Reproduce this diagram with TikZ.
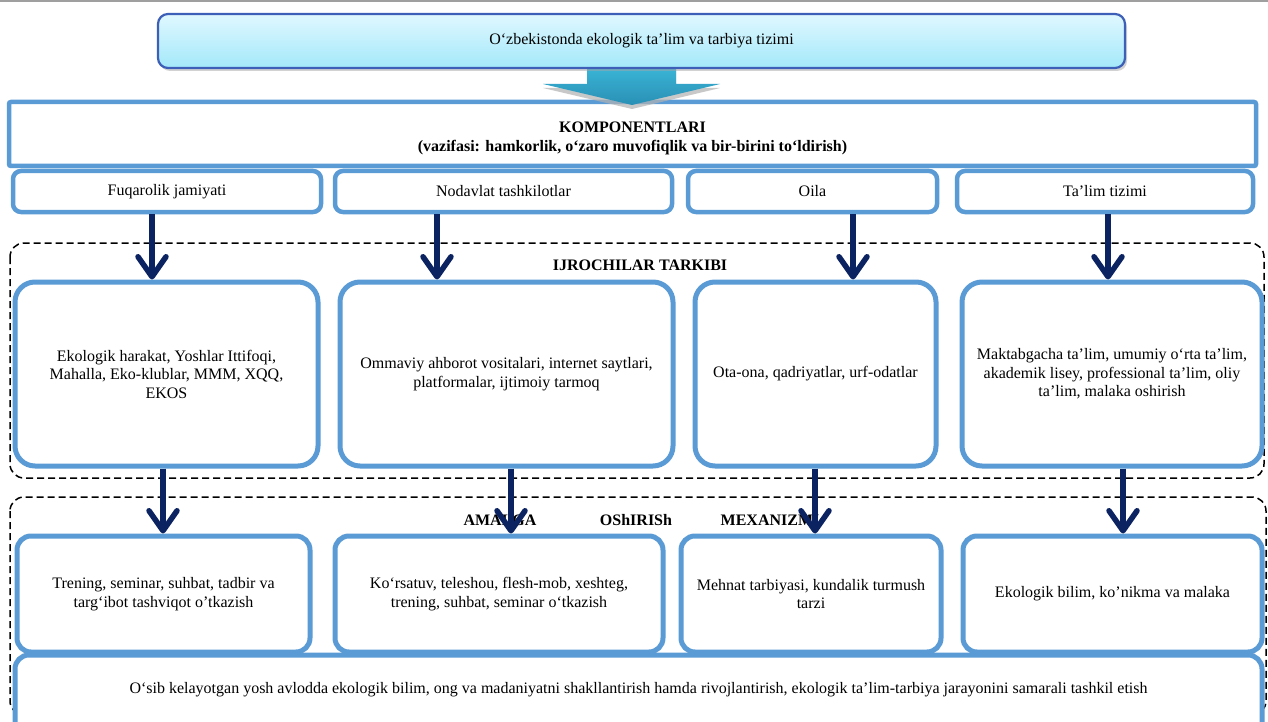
\documentclass[tikz,border=0pt]{standalone}
\usepackage{fontspec}
\setmainfont{Liberation Serif}
\usetikzlibrary{arrows.meta,shadows,calc}
\definecolor{boxblue}{HTML}{5B9BD5}
\definecolor{navy}{HTML}{0B2361}
\definecolor{titleborder}{HTML}{3D5FB8}
\definecolor{titletop}{HTML}{E0F8FF}
\definecolor{titlebot}{HTML}{A3E8FA}
\definecolor{arrtop}{HTML}{3AB6D6}
\definecolor{arrbot}{HTML}{2A8FB5}
\begin{document}
\begin{tikzpicture}[x=1pt,y=-1pt,
  font=\fontsize{16}{18.5}\selectfont,
  comp/.style={draw=boxblue, line width=4.5pt, rounded corners=8pt, fill=white, inner sep=0pt},
  exec/.style={draw=boxblue, line width=5pt, rounded corners=20pt, fill=white, align=center, inner sep=0pt},
  mech/.style={draw=boxblue, line width=5pt, rounded corners=14pt, fill=white, align=center, inner sep=0pt},
  group/.style={draw=black, line width=1.5pt, dash pattern=on 7pt off 4pt, rounded corners=14pt},
  arr/.style={draw=navy, line width=5.5pt, -{Straight Barb[length=20pt,width=28pt,round]}},
  lbl/.style={font=\fontsize{16}{18.5}\selectfont\bfseries, inner sep=0pt}]
\useasboundingbox (0,0) rectangle (1268,722);
\fill[white] (0,0) rectangle (1268,722);
\fill[gray!75] (0,0) rectangle (1268,2.5);

% dashed groups
\draw[group] (10,243) rectangle (1264,478);
\draw[group] (10,497) rectangle (1266,715);
\node[lbl] (ijro) at (640,265) {IJROCHILAR TARKIBI};
\node[lbl] (am1) at (500,520) {AMALGA};
\node[lbl] (am2) at (636,520) {OShIRISh};
\node[lbl] (am3) at (770,520) {MEXANIZMI};

% components box
\node[draw=boxblue, line width=4.5pt, rounded corners=2pt, fill=white, minimum width=1247pt, minimum height=64pt, inner sep=0pt]
  (komp) at (632.5,134) {};
\node[align=center, inner sep=0pt, font=\fontsize{16}{19}\selectfont\bfseries] (kompt) at (632.5,138)
  {KOMPONENTLARI\\(vazifasi: hamkorlik, o‘zaro muvofiqlik va bir-birini to‘ldirish)};

% big arrow
\coordinate (tipA) at (632,105);
\fill[gray!60, opacity=0.7] (587,70) -- (676,70) -- (676,88) -- (720,88) -- (632,109) -- (543,88) -- (587,88) -- cycle;
\shade[top color=arrtop, bottom color=arrbot] (587,66) -- (676,66) -- (676,84) -- (720,84) -- (tipA) -- (543,84) -- (587,84) -- cycle;

% title
\node[draw=titleborder, line width=2.2pt, rounded corners=10pt, top color=titletop, bottom color=titlebot,
  drop shadow={shadow xshift=2pt, shadow yshift=-3pt, fill=gray!70},
  minimum width=967pt, minimum height=54pt, inner sep=0pt]
  (title) at (641.5,41) {O‘zbekistonda ekologik ta’lim va tarbiya tizimi};

% component row
\node[comp, minimum width=308pt, minimum height=41pt] (c1) at (167,191.5) {Fuqarolik jamiyati};
\node[comp, minimum width=337pt, minimum height=41pt] (c2) at (503.5,191.5) {Nodavlat tashkilotlar};
\node[comp, minimum width=249pt, minimum height=41pt] (c3) at (812.5,191.5) {Oila};
\node[comp, minimum width=296pt, minimum height=41pt] (c4) at (1105,191.5) {Ta’lim tizimi};

% executors row
\node[exec, minimum width=303pt, minimum height=184pt] (r1) at (166.5,374)
  {Ekologik harakat, Yoshlar Ittifoqi,\\Mahalla, Eko-klublar, MMM, XQQ,\\EKOS};
\node[exec, minimum width=333pt, minimum height=184pt] (r2) at (506.5,374)
  {Ommaviy ahborot vositalari, internet saytlari,\\platformalar, ijtimoiy tarmoq};
\node[exec, minimum width=241pt, minimum height=184pt] (r3) at (815.5,374)
  {Ota-ona, qadriyatlar, urf-odatlar};
\node[exec, minimum width=300pt, minimum height=184pt] (r4) at (1112,374)
  {Maktabgacha ta’lim, umumiy o‘rta ta’lim,\\akademik lisey, professional ta’lim, oliy\\ta’lim, malaka oshirish};

% mechanisms row
\node[mech, minimum width=293pt, minimum height=116pt] (m1) at (163.5,594)
  {Trening, seminar, suhbat, tadbir va\\targ‘ibot tashviqot o’tkazish};
\node[mech, minimum width=328pt, minimum height=116pt] (m2) at (499,594)
  {Ko‘rsatuv, teleshou, flesh-mob, xeshteg,\\trening, suhbat, seminar o‘tkazish};
\node[mech, minimum width=260pt, minimum height=116pt] (m3) at (811,594)
  {Mehnat tarbiyasi, kundalik turmush\\tarzi};
\node[mech, minimum width=299pt, minimum height=116pt] (m4) at (1112.5,594)
  {Ekologik bilim, ko’nikma va malaka};

% result box
\node[mech, minimum width=1247pt, minimum height=95pt] (res) at (638.5,702.5) {};
\node[inner sep=0pt] (rest) at (638.5,690)
  {O‘sib kelayotgan yosh avlodda ekologik bilim, ong va madaniyatni shakllantirish hamda rivojlantirish, ekologik ta’lim-tarbiya jarayonini samarali tashkil etish};

% arrow columns
\coordinate (a1) at (152,0);
\coordinate (a2) at (437,0);
\coordinate (a3) at (853,0);
\coordinate (a4) at (1108,0);
\coordinate (b1) at (163,0);
\coordinate (b2) at (511,0);
\coordinate (b3) at (815,0);
\coordinate (b4) at (1123,0);

\draw[arr] (c1.south -| a1) -- (r1.north -| a1);
\draw[arr] (c2.south -| a2) -- (r2.north -| a2);
\draw[arr] (c3.south -| a3) -- (r3.north -| a3);
\draw[arr] (c4.south -| a4) -- (r4.north -| a4);
\draw[arr] (r1.south -| b1) -- (m1.north -| b1);
\draw[arr] (r2.south -| b2) -- (m2.north -| b2);
\draw[arr] (r3.south -| b3) -- (m3.north -| b3);
\draw[arr] (r4.south -| b4) -- (m4.north -| b4);
\end{tikzpicture}
\end{document}
